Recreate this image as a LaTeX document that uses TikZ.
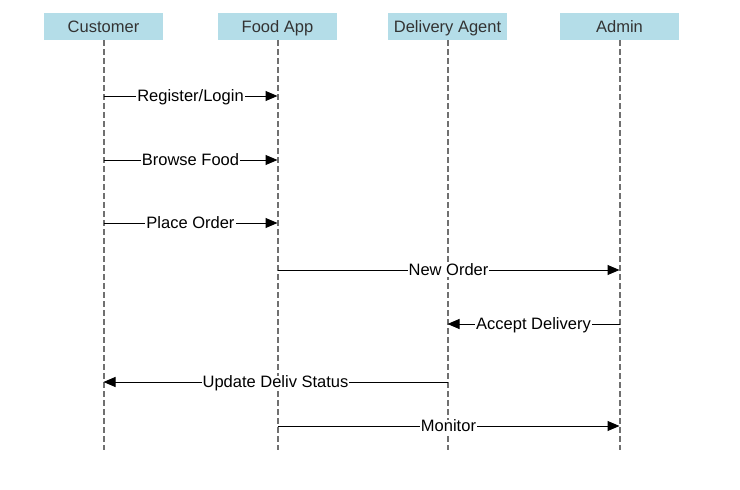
\documentclass[tikz,border=0pt]{standalone}
\usepackage{fontspec}
\setmainfont{Liberation Sans}
\usepackage{xcolor}
\usepackage{tikz}
\usetikzlibrary{arrows.meta}

\definecolor{headblue}{HTML}{B4DDE8}
\definecolor{lifegray}{HTML}{707070}
\definecolor{txtgray}{HTML}{333333}

\begin{document}
\begin{tikzpicture}[x=1pt, y=-1pt, >={Triangle[length=12pt,width=10pt]},
	font=\fontsize{16.5}{19}\selectfont, text=txtgray]

	\tikzstyle{actor}=[rectangle,fill=headblue,minimum width=119pt,minimum height=27pt,inner sep=0pt,text height=11pt,text depth=0pt]
	\tikzstyle{life}=[lifegray,line width=2pt,dash pattern=on 6pt off 3pt]
	\tikzstyle{msg}=[->,black,line width=1pt]
	\tikzstyle{lbl}=[fill=white,inner sep=1pt,text height=11pt,text depth=0pt]

	\path[use as bounding box] (0,0) rectangle (740,490);

	% actors
	\node[actor] (cust) at (103.5,26.5) {Customer};
	\node[actor] (app) at (277.5,26.5) {Food App};
	\node[actor] (agent) at (447.5,26.5) {Delivery Agent};
	\node[actor] (admin) at (619.5,26.5) {Admin};

	% lifelines
	\coordinate (custEnd) at (103.5,450);
	\coordinate (appEnd) at (277.5,450);
	\coordinate (agentEnd) at (447.5,450);
	\coordinate (adminEnd) at (619.5,450);
	\draw[life] (cust) -- (custEnd);
	\draw[life] (app) -- (appEnd);
	\draw[life] (agent) -- (agentEnd);
	\draw[life] (admin) -- (adminEnd);

	% messages from Customer
	\draw[msg] (cust |- 0,96) -- node[lbl] {Register/Login} (app |- 0,96);
	\draw[msg] (cust |- 0,160) -- node[lbl] {Browse Food} (app |- 0,160);
	\draw[msg] (cust |- 0,223) -- node[lbl] {Place Order} (app |- 0,223);

	% messages between App, Agent and Admin
	\draw[msg] (app |- 0,270) -- node[lbl] {New Order} (admin |- 0,270);
	\draw[msg] (admin |- 0,324) -- node[lbl] {Accept Delivery} (agent |- 0,324);
	\draw[msg] (agent |- 0,382) -- node[lbl] {Update Deliv Status} (cust |- 0,382);
	\draw[msg] (app |- 0,426) -- node[lbl] {Monitor} (admin |- 0,426);

\end{tikzpicture}
\end{document}
